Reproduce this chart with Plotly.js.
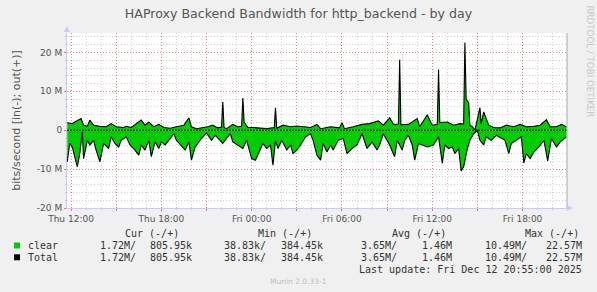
<!DOCTYPE html>
<html><head><meta charset="utf-8">
<script src="https://cdn.plot.ly/plotly-3.0.1.min.js"></script>
<style>html,body{margin:0;padding:0;background:#F0F0F0;} #chart{width:597px;height:292px;}</style>
</head><body><div id="chart"></div>
<script>
// ---- data ----
// minutes after Thu 2025-12-11 12:00
const inMinutes = [-15,-5,5,25,35,45,50,65,75,90,
  100,115,130,150,160,175,190,200,220,235,
  255,270,280,295,310,320,335,350,360,375,
  390,410,420,435,455,470,480,495,505,520,
  540,560,575,585,605,620,635,645,665,685,
  700,720,735,755,765,780,795,805,815,825,
  840,860,875,885,900,915,935,955,965,980,
  995,1005,1020,1035,1045,1065,1085,1100,1120,1140,
  1160,1180,1200,1220,1230,1245,1260,1270,1290,1300,
  1320,1330,1345,1360,1370,1385,1400,1420,1445,1465,
  1480,1490,1505,1520,1530,1545,1555,1565,1580,1590,
  1605,1620,1630,1645,1655,1675,1695,1715,1730,1745,
  1755,1775,1795,1805,1815,1830,1845,1865,1885,1900,
  1915,1935,1950,1975];
// inbound, Mbit/s (drawn negative)
const inValuesM = [-8.1,-3.4,-4.3,-9.4,-6.0,-0.4,-7.3,-2.6,-3.8,-2.6,
  -5.1,-8.1,-3.4,-4.7,-1.7,-3.4,-4.3,-2.6,-1.7,-3.8,
  -5.1,-6.4,-3.8,-5.1,-2.6,-6.8,-3.0,-4.7,-3.0,-3.8,
  -2.6,-0.9,-2.6,-3.8,-5.1,-3.0,-7.7,-4.3,-3.4,-2.1,
  -0.7,-2.6,-1.3,-2.1,-3.4,-2.1,-0.9,-3.0,-3.8,-4.7,
  -2.6,-7.3,-7.7,-5.1,-3.4,-4.7,-3.8,-9.0,-2.6,-4.7,
  -2.6,-5.1,-3.8,-6.0,-5.1,-3.8,-1.7,-0.9,-2.6,-6.4,
  -7.7,-3.4,-5.6,-3.8,-5.1,-2.6,-2.1,-6.0,-4.7,-3.8,
  -0.9,-4.7,-3.0,-5.1,-3.8,-0.9,-2.6,-3.8,-6.8,-2.6,
  -5.1,-2.6,-1.3,-3.8,-7.7,-3.4,-3.8,-4.3,-3.8,-1.7,
  -8.5,-3.8,-4.7,-4.3,-6.0,-4.7,-10.49,-9.4,-4.7,-2.6,
  -0.9,-0.05,-2.6,-3.8,-1.7,-2.6,-1.3,-2.1,-2.6,-6.0,
  -3.4,-2.6,-1.7,-8.4,-6.0,-7.3,-5.6,-4.3,-2.6,-7.9,
  -2.1,-4.3,-3.0,-1.72];
const outMinutes = [-15,5,15,30,40,50,65,75,90,115,
  140,160,180,210,220,240,260,280,295,310,
  330,350,370,395,420,450,470,480,500,530,
  545,565,585,600,605,610,620,645,665,680,
  685,690,705,725,755,780,800,810,815,820,
  845,875,900,925,955,980,995,1035,1070,1080,
  1090,1125,1160,1190,1225,1245,1270,1285,1305,1310,
  1315,1345,1380,1390,1420,1440,1460,1465,1470,1500,
  1525,1550,1565,1570,1575,1585,1590,1600,1610,1630,
  1635,1645,1665,1685,1710,1735,1765,1790,1815,1845,
  1870,1895,1910,1935,1955,1975];
// outbound, Mbit/s
const outValuesM = [1.9,1.7,2.1,2.7,3.0,1.3,1.0,2.6,1.3,1.0,
  0.9,1.7,0.9,0.7,1.0,0.7,1.7,2.6,1.3,2.1,
  0.9,1.5,0.7,0.5,0.9,1.3,3.2,0.9,0.4,0.7,
  0.9,1.3,0.6,0.8,7.3,0.7,0.4,1.5,0.9,1.0,
  8.3,2.1,0.7,0.7,0.5,0.4,0.6,0.6,5.8,0.5,
  1.3,0.9,1.1,0.9,0.7,1.5,0.4,0.9,0.6,1.9,
  0.4,0.9,1.5,1.7,2.4,1.3,3.2,1.5,1.6,18.1,
  1.4,1.5,3.0,0.9,4.0,1.3,1.5,15.6,2.0,2.1,
  1.3,1.7,1.6,22.57,8.0,7.0,1.2,0.9,0.05,5.8,
  1.7,4.7,1.3,0.7,0.6,1.3,0.9,1.5,0.9,1.0,
  1.3,2.7,0.9,0.9,1.5,0.81];

const xTickTimes = ['2025-12-11 12:00','2025-12-11 15:00','2025-12-11 18:00','2025-12-11 21:00',
  '2025-12-12 00:00','2025-12-12 03:00','2025-12-12 06:00','2025-12-12 09:00',
  '2025-12-12 12:00','2025-12-12 15:00','2025-12-12 18:00'];
const xTickLabels = ['Thu 12:00','','Thu 18:00','','Fri 00:00','','Fri 06:00','','Fri 12:00','','Fri 18:00'];
const yTickValsM = [-20,-10,0,10,20];
const yTickLabels = ['-20 M','-10 M','0','10 M','20 M'];

const seriesNames = ['clear','Total'];
const seriesColors = ['#00CC00','#000000'];
const curVals = ['1.72M/','805.95k'];
const minVals = ['38.83k/','384.45k'];
const avgVals = ['3.65M/','1.46M'];
const maxVals = ['10.49M/','22.57M'];
const lastUpdate = 'Last update: Fri Dec 12 20:55:00 2025';

// ---- helpers ----
const baseMs = Date.UTC(2025,11,11,12,0);
function pad(n){return (n<10?'0':'')+n;}
function toDate(m){const d=new Date(baseMs+m*60000);
  return d.getUTCFullYear()+'-'+pad(d.getUTCMonth()+1)+'-'+pad(d.getUTCDate())+' '+pad(d.getUTCHours())+':'+pad(d.getUTCMinutes());}
const inX = inMinutes.map(toDate), outX = outMinutes.map(toDate);
const inY = inValuesM.map(v=>v*1e6), outY = outValuesM.map(v=>v*1e6);

const L=67, R=30, T=33, B=84, W=597, H=292;
const PW=W-L-R, PH=H-T-B;
const px = x => (x-L)/PW;
const py = y => (H-B-y)/PH;

const traces = [
  {x:outX,y:outY,type:'scatter',mode:'lines',fill:'tozeroy',fillcolor:seriesColors[0],line:{width:0,color:seriesColors[0]},hoverinfo:'skip'},
  {x:inX,y:inY,type:'scatter',mode:'lines',fill:'tozeroy',fillcolor:seriesColors[0],line:{width:0,color:seriesColors[0]},hoverinfo:'skip'},
  {x:outX,y:outY,type:'scatter',mode:'lines',line:{width:1.1,color:seriesColors[1]},hoverinfo:'skip'},
  {x:inX,y:inY,type:'scatter',mode:'lines',line:{width:1.1,color:seriesColors[1]},hoverinfo:'skip'}
];

const tickFont = {family:'DejaVu Sans', size:9, color:'#555'};
const mono = {family:'DejaVu Sans Mono', size:10, color:'#333'};
const majGrid = 'rgba(255,0,0,0.35)', minGrid = 'rgba(150,150,150,0.45)';

const ann = [];
function txt(x,y,text,anchor,font){ann.push({xref:'paper',yref:'paper',x:px(x),y:py(y),text:text,showarrow:false,
  xanchor:anchor,yanchor:'middle',font:font||mono,borderpad:0});}
// legend header
txt(124,233.5,'Cur (-/+)','left'); txt(257.3,233.5,'Min (-/+)','left');
txt(390.7,233.5,'Avg (-/+)','left'); txt(524,233.5,'Max (-/+)','left');
const rowY = [245.5,257.3];
const shapes = [];
seriesNames.forEach((n,i)=>{
  const y=rowY[i];
  txt(26.7,y,n,'left');
  txt(136.7,y,curVals[0],'right'); txt(192.7,y,curVals[1],'right');
  txt(266.7,y,minVals[0],'right'); txt(323.7,y,minVals[1],'right');
  txt(398.3,y,avgVals[0],'right'); txt(453.3,y,avgVals[1],'right');
  txt(528.3,y,maxVals[0],'right'); txt(583.3,y,maxVals[1],'right');
  shapes.push({type:'rect',xref:'paper',yref:'paper',x0:px(14),x1:px(20),y0:py(y-3),y1:py(y+3),
    fillcolor:seriesColors[i],line:{width:0}});
});
txt(583.3,269.7,lastUpdate,'right');
txt(298.5,281,'Munin 2.0.33-1','center',{family:'DejaVu Sans',size:7.5,color:'#bdbdbd'});
ann.push({xref:'paper',yref:'paper',x:px(589.5),y:py(61),text:'RRDTOOL / TOBI OETIKER',showarrow:false,
  textangle:90,xanchor:'center',yanchor:'middle',font:{family:'DejaVu Sans',size:8.7,color:'#c8c8c8'}});

// zero line, frame, arrows
shapes.push({type:'line',xref:'paper',yref:'y',x0:0,x1:1,y0:0,y1:0,line:{color:'#3a0000',width:1,dash:'2px,1px'}});
shapes.push({type:'line',xref:'paper',yref:'paper',x0:1,x1:1,y0:0,y1:1,line:{color:'#a8a8a8',width:1}});
shapes.push({type:'path',xref:'paper',yref:'paper',
  path:'M '+px(64)+' '+py(32)+' L '+px(70)+' '+py(32)+' L '+px(67)+' '+py(26)+' Z',fillcolor:'#c8ccf4',line:{width:0}});
shapes.push({type:'path',xref:'paper',yref:'paper',
  path:'M '+px(567)+' '+py(205)+' L '+px(567)+' '+py(211)+' L '+px(573)+' '+py(208)+' Z',fillcolor:'#c8ccf4',line:{width:0}});

const layout = {
  width:W, height:H, margin:{l:L,r:R,t:T,b:B}, paper_bgcolor:'#F0F0F0', plot_bgcolor:'#FFFFFF',
  showlegend:false,
  title:{text:'HAProxy Backend Bandwidth for http_backend - by day', xref:'container', x:0.5, xanchor:'center',
    yref:'container', y:1-13.3/H, yanchor:'middle', font:{family:'DejaVu Sans', size:12.6, color:'#555'}},
  xaxis:{type:'date', range:['2025-12-11 11:44','2025-12-12 20:57'], tickmode:'array', tickvals:xTickTimes, ticktext:xTickLabels,
    showgrid:true, gridcolor:majGrid, griddash:'1px,2px', gridwidth:1, ticks:'outside', ticklen:2, tickcolor:'rgba(255,0,0,0.5)',
    tickfont:tickFont, showline:true, linecolor:'#c8ccf4', linewidth:1, zeroline:false, fixedrange:true,
    minor:{tickmode:'linear', tick0:'2025-12-11 00:00', dtick:3600000, showgrid:true, gridcolor:minGrid, griddash:'1px,2px', ticks:'outside', ticklen:1, tickcolor:minGrid}},
  yaxis:{range:[-20e6,25e6], tickmode:'array', tickvals:yTickValsM.map(v=>v*1e6), ticktext:yTickLabels,
    showgrid:true, gridcolor:majGrid, griddash:'1px,2px', gridwidth:1, ticks:'outside', ticklen:2, tickcolor:'rgba(255,0,0,0.5)',
    tickfont:tickFont, showline:true, linecolor:'#c8ccf4', linewidth:1, zeroline:false, fixedrange:true,
    title:{text:'bits/second [in(-); out(+)]', font:{family:'DejaVu Sans', size:11, color:'#555'}, standoff:14},
    minor:{tickmode:'linear', tick0:0, dtick:2e6, showgrid:true, gridcolor:minGrid, griddash:'1px,2px', ticks:'outside', ticklen:1, tickcolor:minGrid}},
  shapes:shapes, annotations:ann
};
Plotly.newPlot('chart', traces, layout, {staticPlot:true, displayModeBar:false});
</script></body></html>
